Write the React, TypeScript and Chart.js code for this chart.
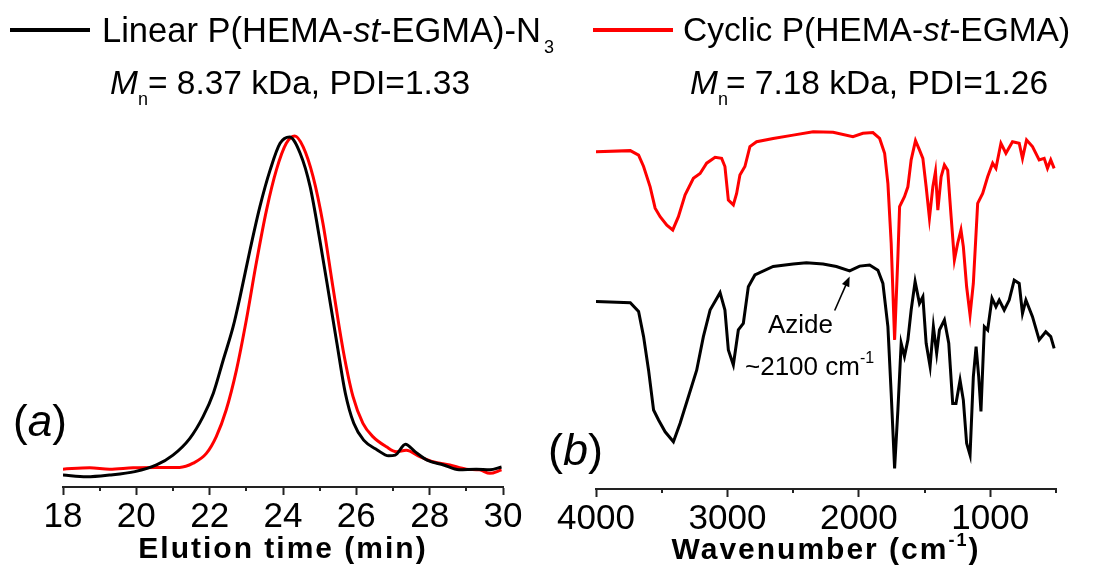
import React, { useEffect, useRef } from 'react';
import { Chart, registerables } from 'chart.js';

Chart.register(...registerables);

// ---------- DATA ----------
// GPC (panel a)
const gpcTicks = [18, 20, 22, 24, 26, 28, 30];
const gpcMinorTicks = [19, 21, 23, 25, 27, 29];
const linearTime = [18.0, 18.64, 19.27, 19.96, 20.55, 21.0, 21.46, 21.82, 22.1, 22.37, 22.64, 22.83, 23.1, 23.37, 23.65, 23.92, 24.18, 24.47, 24.74, 25.02, 25.29, 25.47, 25.7, 25.93, 26.2, 26.57, 26.88, 27.06, 27.34, 27.6, 27.93, 28.38, 28.8, 29.27, 29.64, 29.96];
const linearSignal = [0.034, 0.029, 0.034, 0.044, 0.063, 0.091, 0.139, 0.201, 0.268, 0.363, 0.458, 0.544, 0.677, 0.801, 0.906, 0.982, 1.0, 0.953, 0.858, 0.696, 0.525, 0.411, 0.268, 0.182, 0.134, 0.106, 0.089, 0.091, 0.122, 0.101, 0.077, 0.063, 0.049, 0.051, 0.049, 0.057];
const cyclicTime = [18.0, 18.73, 19.27, 19.91, 20.55, 21.18, 21.55, 21.91, 22.18, 22.45, 22.73, 23.0, 23.27, 23.55, 23.82, 24.09, 24.32, 24.55, 24.82, 25.09, 25.36, 25.64, 25.91, 26.18, 26.45, 26.82, 27.09, 27.36, 27.73, 28.09, 28.55, 29.0, 29.36, 29.64, 29.96];
const cyclicSignal = [0.051, 0.055, 0.051, 0.055, 0.056, 0.056, 0.068, 0.096, 0.144, 0.22, 0.334, 0.477, 0.639, 0.791, 0.906, 0.982, 1.003, 0.972, 0.887, 0.753, 0.572, 0.391, 0.258, 0.182, 0.144, 0.115, 0.101, 0.105, 0.087, 0.072, 0.063, 0.051, 0.049, 0.039, 0.049];

// FTIR (panel b)
const ftirTicks = [4000, 3000, 2000, 1000];
const ftirMinorTicks = [3500, 2500, 1500, 500];
const cyclicWn = [4000, 3739, 3676, 3638, 3588, 3550, 3512, 3461, 3416, 3373, 3322, 3259, 3208, 3158, 3094, 3044, 3019, 2993, 2955, 2930, 2905, 2867, 2829, 2778, 2652, 2500, 2348, 2196, 2045, 1969, 1893, 1842, 1804, 1779, 1754, 1728, 1703, 1690, 1653, 1627, 1602, 1569, 1539, 1513, 1488, 1463, 1437, 1417, 1399, 1374, 1349, 1324, 1298, 1273, 1248, 1223, 1205, 1180, 1154, 1129, 1096, 1058, 1020, 982, 957, 919, 881, 831, 780, 755, 724, 679, 628, 590, 565, 540, 514];
const cyclicT = [91.4, 91.7, 90.5, 87.4, 81.9, 76.1, 73.8, 71.5, 70.2, 73.8, 79.7, 84.2, 85.5, 88.3, 89.9, 89.6, 87.4, 78.3, 77.0, 80.1, 85.1, 87.4, 92.8, 94.1, 95.0, 95.9, 96.8, 96.7, 95.5, 96.4, 96.6, 95.0, 91.0, 82.8, 66.6, 40.4, 63.0, 76.5, 79.2, 81.9, 89.2, 94.4, 91.9, 89.6, 81.9, 73.4, 81.9, 86.0, 75.6, 84.6, 87.8, 86.4, 73.8, 62.1, 66.6, 70.2, 65.7, 54.8, 47.2, 55.7, 77.4, 80.1, 84.6, 88.3, 86.9, 93.7, 91.0, 94.1, 93.7, 89.6, 94.6, 92.8, 89.2, 89.6, 86.9, 89.2, 86.9];
const linearWn = [4000, 3739, 3676, 3638, 3600, 3562, 3524, 3474, 3411, 3360, 3297, 3234, 3183, 3132, 3056, 3019, 2993, 2955, 2917, 2879, 2841, 2791, 2652, 2500, 2399, 2272, 2171, 2070, 1994, 1918, 1855, 1817, 1779, 1754, 1728, 1703, 1678, 1653, 1627, 1602, 1572, 1539, 1513, 1488, 1458, 1433, 1408, 1387, 1349, 1316, 1286, 1261, 1230, 1205, 1180, 1154, 1129, 1108, 1088, 1071, 1045, 1020, 987, 957, 932, 894, 856, 818, 780, 755, 729, 679, 628, 578, 540, 514];
const linearT = [50.8, 50.5, 48.1, 41.3, 32.2, 21.4, 18.7, 15.5, 12.8, 17.8, 25.0, 32.2, 41.3, 48.5, 53.2, 48.5, 37.7, 33.6, 43.1, 44.9, 54.8, 58.0, 60.3, 61.0, 61.3, 61.0, 60.3, 59.1, 60.4, 60.7, 59.3, 55.7, 44.0, 25.9, 5.6, 21.4, 39.5, 35.9, 40.4, 48.5, 56.2, 50.3, 52.1, 39.5, 33.2, 44.0, 36.8, 43.1, 45.8, 39.5, 23.2, 23.2, 29.5, 24.1, 12.4, 9.2, 30.4, 38.6, 30.4, 21.0, 44.0, 43.1, 51.7, 49.4, 51.2, 48.5, 51.2, 56.6, 55.7, 47.6, 51.2, 46.7, 40.4, 42.6, 41.3, 38.1];
const azideWn = 2070;
const azideT = 57.6;

// ---------- STYLE ----------
const FONT = '"Liberation Sans", Arial, Helvetica, sans-serif';
const BLACK = '#000000';
const RED = '#ff0000';

const toPoints = (xs: number[], ys: number[]) => xs.map((x, i) => ({ x, y: ys[i] }));

const minorTickPlugin = {
  id: 'minorTicks',
  afterDraw(chart: any, _args: any, opts: any) {
    const sc = chart.scales.x;
    const ctx = chart.ctx;
    const y0 = chart.chartArea.bottom;
    ctx.save();
    ctx.strokeStyle = '#222';
    ctx.lineWidth = 2;
    (opts.values || []).forEach((v: number) => {
      const x = Math.round(sc.getPixelForValue(v));
      ctx.beginPath();
      ctx.moveTo(x, y0);
      ctx.lineTo(x, y0 + (opts.length || 4));
      ctx.stroke();
    });
    ctx.restore();
  },
};

const arrowPlugin = {
  id: 'azideArrow',
  afterDatasetsDraw(chart: any, _args: any, opts: any) {
    if (!opts || opts.x === undefined) return;
    const ctx = chart.ctx;
    const tx = chart.scales.x.getPixelForValue(opts.x);
    const ty = chart.scales.y.getPixelForValue(opts.y);
    const fx = tx - 15;
    const fy = ty + 34;
    const ang = Math.atan2(ty - fy, tx - fx);
    ctx.save();
    ctx.strokeStyle = BLACK;
    ctx.fillStyle = BLACK;
    ctx.lineWidth = 1.6;
    ctx.beginPath();
    ctx.moveTo(fx, fy);
    ctx.lineTo(tx - 6 * Math.cos(ang), ty - 6 * Math.sin(ang));
    ctx.stroke();
    const L = 10, W = 4;
    ctx.beginPath();
    ctx.moveTo(tx, ty);
    ctx.lineTo(tx - L * Math.cos(ang) + W * Math.sin(ang), ty - L * Math.sin(ang) - W * Math.cos(ang));
    ctx.lineTo(tx - L * Math.cos(ang) - W * Math.sin(ang), ty - L * Math.sin(ang) + W * Math.cos(ang));
    ctx.closePath();
    ctx.fill();
    ctx.restore();
  },
};

function xAxis(min: number, max: number, ticks: number[], reverse: boolean) {
  return {
    type: 'linear',
    min,
    max,
    reverse,
    afterBuildTicks: (scale: any) => {
      scale.ticks = ticks.map((v) => ({ value: v }));
    },
    afterFit: (scale: any) => {
      scale.height = 50;
    },
    grid: {
      display: true,
      drawOnChartArea: false,
      drawTicks: true,
      tickLength: 8,
      tickWidth: 2,
      tickColor: '#222',
    },
    border: { display: true, color: '#222', width: 2 },
    ticks: {
      color: BLACK,
      font: { family: FONT, size: 35 },
      padding: 1,
      maxRotation: 0,
      autoSkip: false,
      callback: (v: any) => String(v),
    },
  };
}

function GpcChart() {
  const ref = useRef<HTMLCanvasElement>(null);
  useEffect(() => {
    const chart = new Chart(ref.current as HTMLCanvasElement, {
      type: 'line',
      data: {
        datasets: [
          {
            data: toPoints(linearTime, linearSignal),
            borderColor: BLACK,
            borderWidth: 3,
            pointRadius: 0,
            cubicInterpolationMode: 'monotone',
          },
          {
            data: toPoints(cyclicTime, cyclicSignal),
            borderColor: RED,
            borderWidth: 3,
            pointRadius: 0,
            cubicInterpolationMode: 'monotone',
          },
        ],
      },
      options: {
        animation: false,
        responsive: false,
        devicePixelRatio: 1,
        layout: { padding: { left: 63, right: 42, top: 130, bottom: 0 } },
        plugins: {
          legend: { display: false },
          tooltip: { enabled: false },
          minorTicks: { values: gpcMinorTicks, length: 4 },
        } as any,
        scales: {
          x: xAxis(18, 30, gpcTicks, false) as any,
          y: { type: 'linear', min: 0, max: 1.02, display: false },
        },
      },
      plugins: [minorTickPlugin],
    });
    return () => chart.destroy();
  }, []);
  return <canvas ref={ref} width={545} height={537} style={{ position: 'absolute', left: 0, top: 0, width: 545, height: 537 }} />;
}

function FtirChart() {
  const ref = useRef<HTMLCanvasElement>(null);
  useEffect(() => {
    const chart = new Chart(ref.current as HTMLCanvasElement, {
      type: 'line',
      data: {
        datasets: [
          {
            data: toPoints(cyclicWn, cyclicT),
            borderColor: RED,
            borderWidth: 3,
            pointRadius: 0,
            tension: 0,
          },
          {
            data: toPoints(linearWn, linearT),
            borderColor: BLACK,
            borderWidth: 3,
            pointRadius: 0,
            tension: 0,
          },
        ],
      },
      options: {
        animation: false,
        responsive: false,
        devicePixelRatio: 1,
        layout: { padding: { left: 51, right: 39, top: 120, bottom: 0 } },
        plugins: {
          legend: { display: false },
          tooltip: { enabled: false },
          minorTicks: { values: ftirMinorTicks, length: 4 },
          azideArrow: { x: azideWn, y: azideT },
        } as any,
        scales: {
          x: xAxis(500, 4000, ftirTicks, true) as any,
          y: { type: 'linear', min: 0, max: 100, display: false },
        },
      },
      plugins: [minorTickPlugin, arrowPlugin],
    });
    return () => chart.destroy();
  }, []);
  return <canvas ref={ref} width={550} height={539} style={{ position: 'absolute', left: 545, top: 0, width: 550, height: 539 }} />;
}

const txt = (extra: React.CSSProperties): React.CSSProperties => ({
  position: 'absolute',
  fontFamily: FONT,
  color: BLACK,
  lineHeight: 1,
  whiteSpace: 'nowrap',
  ...extra,
});

const subStyle = (size: number, drop: number, extra: React.CSSProperties = {}): React.CSSProperties => ({
  fontSize: size,
  position: 'relative',
  top: drop,
  ...extra,
});

export default function App() {
  return (
    <div style={{ position: 'fixed', left: 0, top: 0, width: 1095, height: 571, background: '#fff', overflow: 'hidden' }}>
      <GpcChart />
      <FtirChart />

      {/* legend, left */}
      <div style={{ position: 'absolute', left: 10, top: 28, width: 80, height: 4, background: BLACK }} />
      <div style={txt({ left: 102, top: 13, fontSize: 34.5 })}>
        Linear P(HEMA-<i>st</i>-EGMA)-N<span style={subStyle(18, 11, { marginLeft: 3 })}>3</span>
      </div>
      <div style={txt({ left: 110, top: 66, fontSize: 33.5 })}>
        <i>M</i>
        <span style={subStyle(18, 11, { marginRight: 0 })}>n</span>= 8.37 kDa, PDI=1.33
      </div>

      {/* legend, right */}
      <div style={{ position: 'absolute', left: 593, top: 28, width: 80, height: 4, background: RED }} />
      <div style={txt({ left: 683, top: 13, fontSize: 33.5 })}>
        Cyclic P(HEMA-<i>st</i>-EGMA)
      </div>
      <div style={txt({ left: 690, top: 66, fontSize: 33.5 })}>
        <i>M</i>
        <span style={subStyle(18, 11, { marginRight: -2 })}>n</span>= 7.18 kDa, PDI=1.26
      </div>

      {/* panel labels */}
      <div style={txt({ left: 13, top: 399, fontSize: 44 })}>
        (<i>a</i>)
      </div>
      <div style={txt({ left: 548, top: 427, fontSize: 45 })}>
        (<i>b</i>)
      </div>

      {/* azide annotation */}
      <div style={txt({ left: 768, top: 311, fontSize: 26 })}>Azide</div>
      <div style={txt({ left: 745, top: 353, fontSize: 26 })}>
        ~2100 cm<span style={subStyle(16, -12)}>-1</span>
      </div>

      {/* axis titles */}
      <div style={txt({ left: 83, width: 400, top: 533, fontSize: 30, fontWeight: 'bold', letterSpacing: 2, textAlign: 'center' })}>
        Elution time (min)
      </div>
      <div style={txt({ left: 626, width: 400, top: 534, fontSize: 30, fontWeight: 'bold', letterSpacing: 2, textAlign: 'center' })}>
        Wavenumber (cm<span style={subStyle(18, -13)}>-1</span>)
      </div>
    </div>
  );
}
